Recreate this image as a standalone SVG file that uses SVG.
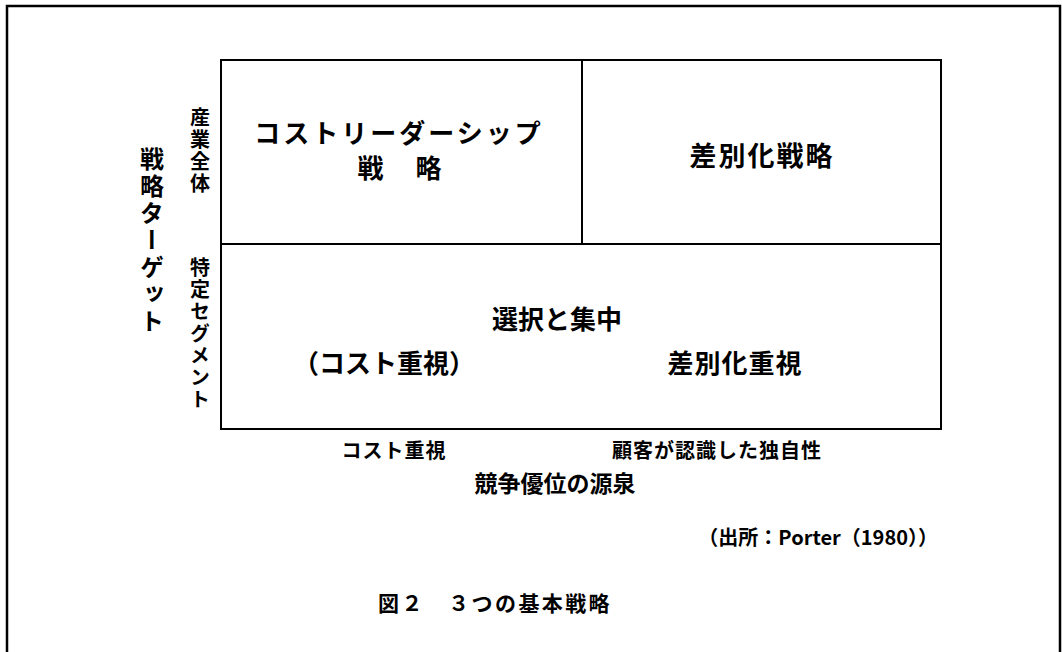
<svg xmlns="http://www.w3.org/2000/svg" width="1062" height="652" viewBox="0 0 1062 652">
<style>
.t{font-family:"Noto Sans CJK JP","Noto Sans",sans-serif;font-weight:bold;fill:#000}
.v{writing-mode:vertical-rl}
.ln{stroke:#000;stroke-width:2;fill:none}
</style>
<rect width="1062" height="652" fill="#fff"/>
<rect x="7" y="6" width="1053" height="660" fill="none" stroke="#000" stroke-width="2.5"/>
<g id="grid">
<rect class="ln" x="221" y="60" width="720" height="369"/>
<line class="ln" x1="221" y1="244" x2="941" y2="244"/>
<line class="ln" x1="582" y1="60" x2="582" y2="244"/>
</g>
<g id="cost-leadership">
<text class="t" x="399" y="143" font-size="26" letter-spacing="3" text-anchor="middle">コストリーダーシップ</text>
<text class="t" x="401" y="178" font-size="26" letter-spacing="3" text-anchor="middle">戦　略</text>
</g>
<g id="differentiation">
<text class="t" x="762" y="166" font-size="27" letter-spacing="2" text-anchor="middle">差別化戦略</text>
</g>
<g id="focus">
<text class="t" x="557" y="329" font-size="26" text-anchor="middle">選択と集中</text>
<text class="t" x="384" y="373" font-size="26" text-anchor="middle">（コスト重視）</text>
<text class="t" x="735" y="373" font-size="26" letter-spacing="1" text-anchor="middle">差別化重視</text>
</g>
<g id="axis-x">
<text class="t" x="394" y="458" font-size="20" letter-spacing="1" text-anchor="middle">コスト重視</text>
<text class="t" x="717" y="458" font-size="20" letter-spacing="1" text-anchor="middle">顧客が認識した独自性</text>
<text class="t" x="555" y="492" font-size="23" text-anchor="middle">競争優位の源泉</text>
</g>
<g id="axis-y">
<text class="t v" x="152" y="147" font-size="24" letter-spacing="3">戦略ターゲット</text>
<text class="t v" x="200" y="107" font-size="20" letter-spacing="2">産業全体</text>
<text class="t v" x="200" y="257" font-size="20" letter-spacing="2">特定セグメント</text>
</g>
<g id="source">
<text class="t" x="938" y="545" font-size="20" text-anchor="end">（出所：Porter（1980））</text>
</g>
<g id="caption">
<text class="t" x="378" y="611" font-size="21" letter-spacing="2.4">図２　３つの基本戦略</text>
</g>
</svg>
